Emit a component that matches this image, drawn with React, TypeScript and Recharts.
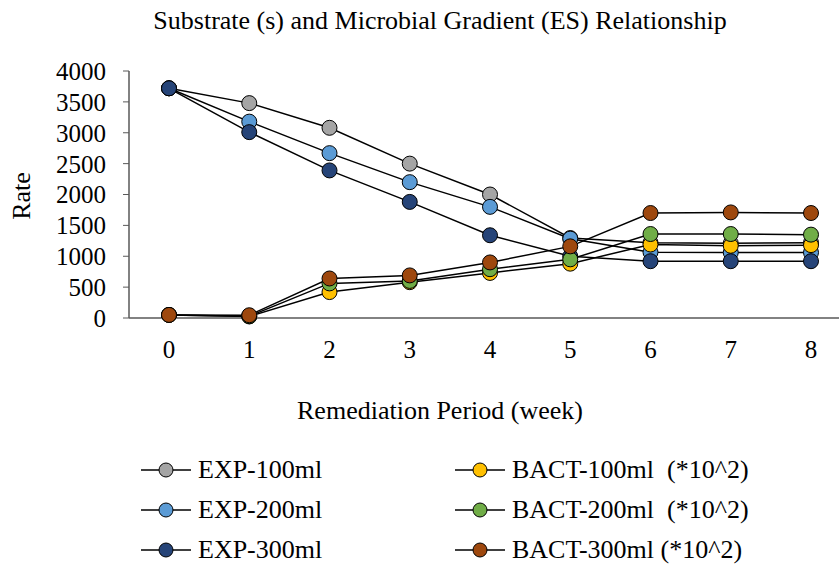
import { LineChart, Line, XAxis, YAxis } from "recharts";

const weeks = ["0", "1", "2", "3", "4", "5", "6", "7", "8"];

const exp100 = [3720, 3480, 3080, 2500, 2000, 1295, 1220, 1210, 1220];
const exp200 = [3720, 3180, 2670, 2200, 1800, 1285, 1065, 1060, 1060];
const exp300 = [3720, 3010, 2390, 1880, 1340, 1000, 920, 920, 920];
const bact100 = [50, 25, 420, 580, 730, 880, 1190, 1170, 1180];
const bact200 = [50, 30, 560, 600, 790, 950, 1360, 1360, 1350];
const bact300 = [50, 45, 640, 690, 900, 1160, 1700, 1710, 1700];

const yTicks = [0, 500, 1000, 1500, 2000, 2500, 3000, 3500, 4000];

const series = [
  { key: "exp100", name: "EXP-100ml", color: "#A5A5A5", values: exp100 },
  { key: "exp200", name: "EXP-200ml", color: "#5B9BD5", values: exp200 },
  { key: "exp300", name: "EXP-300ml", color: "#264478", values: exp300 },
  { key: "bact100", name: "BACT-100ml  (*10^2)", color: "#FFC000", values: bact100 },
  { key: "bact200", name: "BACT-200ml  (*10^2)", color: "#70AD47", values: bact200 },
  { key: "bact300", name: "BACT-300ml (*10^2)", color: "#9E480E", values: bact300 },
];

const data = weeks.map((week, i) => {
  const row: Record<string, number | string> = { week };
  series.forEach((s) => {
    row[s.key] = s.values[i];
  });
  return row;
});

const FONT = "Liberation Serif";

// serif tick labels (recharts' default text styling kept falling back to sans)
function XTick(props: any) {
  const { x, y, payload } = props;
  return (
    <text x={x} y={y} dy="0.71em" textAnchor="middle" fontFamily={FONT} fontSize={25} fill="#000">
      {payload.value}
    </text>
  );
}

function YTick(props: any) {
  const { x, y, payload } = props;
  return (
    <text x={x} y={y} dy="0.355em" textAnchor="end" fontFamily={FONT} fontSize={25} fill="#000">
      {payload.value}
    </text>
  );
}

// legend drawn outside the chart so it doesn't shrink the plot area
function LegendGrid() {
  const rows = [0, 1, 2];
  return (
    <div style={{ position: "absolute", left: 0, top: 450, width: 839, height: 120 }}>
      {rows.map((r) =>
        [series[r], series[r + 3]].map((s, c) => (
          <div
            key={s.key}
            style={{
              position: "absolute",
              left: c === 0 ? 141 : 455,
              top: r * 40,
              height: 40,
              display: "flex",
              alignItems: "center",
              whiteSpace: "pre",
              fontSize: 26,
              color: "#000",
            }}
          >
            <svg width={57} height={20}>
              <line x1={0} y1={10} x2={50} y2={10} stroke="#000" strokeWidth={1.5} />
              <circle cx={25} cy={10} r={7} fill={s.color} stroke="#000" strokeWidth={1} />
            </svg>
            <span>{s.name}</span>
          </div>
        ))
      )}
    </div>
  );
}

export default function App() {
  return (
    <div
      style={{
        position: "absolute",
        left: 0,
        top: 0,
        width: 839,
        height: 578,
        background: "#fff",
        fontFamily: FONT,
        color: "#000",
      }}
    >
      <LineChart
        width={839}
        height={578}
        data={data}
        margin={{ top: 71, right: 0, bottom: 230, left: 49 }}
        style={{ position: "absolute", left: 0, top: 0 }}
      >
        <XAxis
          dataKey="week"
          padding={{ left: 40, right: 28 }}
          tickLine={false}
          axisLine={{ stroke: "#595959", strokeWidth: 1.5 }}
          tick={<XTick />}
          tickMargin={16}
          interval={0}
        />
        <YAxis
          width={80}
          domain={[0, 4000]}
          ticks={yTicks}
          interval={0}
          axisLine={{ stroke: "#595959", strokeWidth: 1.5 }}
          tickLine={{ stroke: "#595959" }}
          tickSize={6}
          tickMargin={17}
          tick={<YTick />}
        />
        {series.map((s) => (
          <Line
            key={s.key}
            dataKey={s.key}
            name={s.name}
            type="linear"
            stroke="#000"
            strokeWidth={1.5}
            dot={{ r: 7.5, fill: s.color, stroke: "#000", strokeWidth: 1 }}
            activeDot={false}
            isAnimationActive={false}
          />
        ))}
      </LineChart>
      <div
        style={{
          position: "absolute",
          top: 6,
          left: 0,
          width: 880,
          textAlign: "center",
          fontSize: 26,
        }}
      >
        Substrate (s) and Microbial Gradient (ES) Relationship
      </div>
      <div
        style={{
          position: "absolute",
          top: 396,
          left: 0,
          width: 880,
          textAlign: "center",
          fontSize: 26,
        }}
      >
        Remediation Period (week)
      </div>
      <div
        style={{
          position: "absolute",
          left: 22,
          top: 196,
          fontSize: 26,
          transform: "translate(-50%, -50%) rotate(-90deg)",
        }}
      >
        Rate
      </div>
      <LegendGrid />
    </div>
  );
}
